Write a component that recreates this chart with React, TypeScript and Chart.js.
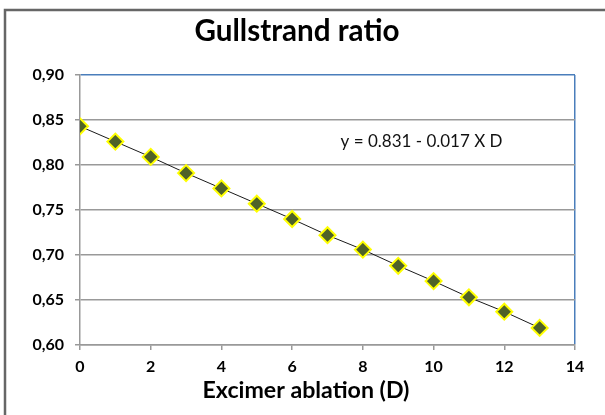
import React, { useEffect, useRef } from "react";
import { Chart, registerables } from "chart.js";

Chart.register(...registerables);

const ablation = [0, 1, 2, 3, 4, 5, 6, 7, 8, 9, 10, 11, 12, 13];
const ratio = [0.843, 0.826, 0.809, 0.791, 0.774, 0.757, 0.74, 0.722, 0.706, 0.688, 0.671, 0.653, 0.637, 0.619];
const titleText = "Gullstrand ratio";
const xAxisTitle = "Excimer ablation (D)";
const equationText = "y = 0.831 - 0.017 X D";

const FONT = "Lato, 'Open Sans', sans-serif";

function fitText(c: CanvasRenderingContext2D, text: string, weight: string, width: number, cx: number, cy: number) {
  c.font = `${weight} 20px ${FONT}`;
  const w = c.measureText(text).width;
  const size = (20 * width) / w;
  c.font = `${weight} ${size.toFixed(2)}px ${FONT}`;
  c.fillText(text, cx, cy);
}

export default function App() {
  const ref = useRef<HTMLCanvasElement>(null);
  useEffect(() => {
    if (!ref.current) return;
    const decor = {
      id: "decor",
      afterDraw(chart: any) {
        const c = chart.ctx;
        const a = chart.chartArea;
        c.save();
        c.strokeStyle = "#666";
        c.lineWidth = 2.5;
        c.strokeRect(5, 10, 700, 500);
        c.fillStyle = "#000";
        c.textAlign = "center";
        c.textBaseline = "middle";
        fitText(c, titleText, "bold", 205, 297, 31);
        fitText(c, xAxisTitle, "bold", 207, 306, 391);
        c.fillStyle = "#111";
        fitText(c, equationText, "normal", 162, a.left + (a.right - a.left) * 0.69, a.top + (a.bottom - a.top) * 0.245);
        c.restore();
      },
    };
    const chart = new Chart(ref.current, {
      type: "scatter",
      data: {
        datasets: [
          {
            data: ablation.map((x, i) => ({ x, y: ratio[i] })),
            showLine: true,
            borderColor: "#1a1a1a",
            borderWidth: 1,
            pointStyle: "rectRot",
            pointRadius: 8,
            pointBackgroundColor: "#4F6228",
            pointBorderColor: "#FFFF00",
            pointBorderWidth: 2,
          },
        ],
      },
      options: {
        responsive: false,
        animation: false,
        layout: { padding: { left: 0, top: 75, right: 30, bottom: 0 } },
        plugins: { legend: { display: false }, title: { display: false }, tooltip: { enabled: false } },
        scales: {
          x: {
            type: "linear",
            min: 0,
            max: 14,
            afterFit: (s: any) => { s.height = 70; },
            ticks: { stepSize: 2, padding: 7, color: "#000", font: { family: FONT, size: 16, weight: "bold" } },
            grid: {
              color: (ctx: any) => (ctx.tick && ctx.tick.value === 14 ? "#4A7EBB" : "rgba(0,0,0,0)"),
              tickColor: "#999",
              tickLength: 5,
              lineWidth: 1.5,
            },
            border: { color: "#999", width: 1.5 },
          },
          y: {
            min: 0.6,
            max: 0.9,
            afterFit: (s: any) => { s.width = 80; },
            ticks: {
              stepSize: 0.05,
              padding: 11,
              color: "#000",
              font: { family: FONT, size: 16, weight: "bold" },
              callback: (v: any) => Number(v).toFixed(2).replace(".", ","),
            },
            grid: {
              color: (ctx: any) => (ctx.tick && Math.abs(ctx.tick.value - 0.9) < 1e-6 ? "#4A7EBB" : "#999"),
              tickColor: "#999",
              tickLength: 5,
              lineWidth: 1.5,
            },
            border: { color: "#999", width: 1.5 },
          },
        },
      },
      plugins: [decor],
    });
    return () => chart.destroy();
  }, []);
  return (
    <div style={{ position: "fixed", left: 0, top: 0, width: 605, height: 415, background: "#fff", overflow: "hidden" }}>
      <canvas ref={ref} width={605} height={415} />
    </div>
  );
}
